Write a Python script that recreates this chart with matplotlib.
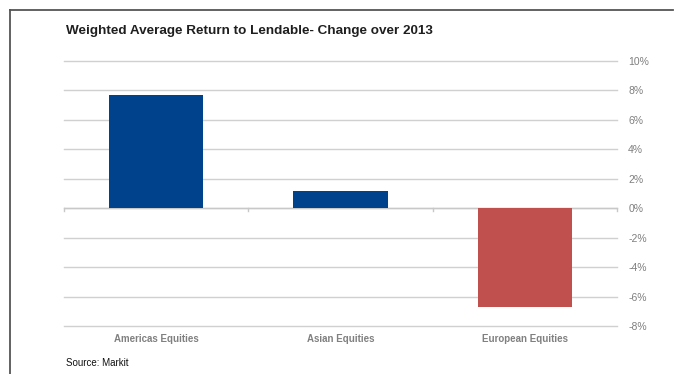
import matplotlib
matplotlib.use("Agg")
import matplotlib.pyplot as plt
from matplotlib.lines import Line2D
from matplotlib.ticker import FuncFormatter

categories = ["Americas Equities", "Asian Equities", "European Equities"]
values = [7.7, 1.2, -6.7]
bar_colors = ["#00438C", "#00438C", "#C0504D"]
y_ticks = [-8, -6, -4, -2, 0, 2, 4, 6, 8, 10]

plt.rcParams["font.family"] = ["Liberation Sans", "DejaVu Sans"]

fig = plt.figure(figsize=(6.75, 3.74), dpi=100)
ax = fig.add_axes([0.0948, 0.1283, 0.8193, 0.7086])

x = list(range(len(categories)))
ax.bar(x, values, width=0.51, color=bar_colors, zorder=3)

ax.set_xlim(-0.5, len(categories) - 0.5)
ax.set_ylim(-8, 10)
ax.set_yticks(y_ticks)
ax.yaxis.set_major_formatter(FuncFormatter(lambda v, _: f"{v:.0f}%"))
ax.yaxis.tick_right()
ax.tick_params(axis="y", length=0, pad=8, labelsize=7.5, labelcolor="#7F7F7F")
ax.grid(axis="y", color="#D0D0D0", linewidth=1.0, zorder=0)
for gl in ax.get_ygridlines():
    gl.set_clip_on(False)

ax.set_xticks(x)
ax.set_xticklabels(categories)
ax.tick_params(axis="x", length=0, pad=6, labelsize=7, labelcolor="#808080")
for lbl in ax.get_xticklabels():
    lbl.set_fontweight("bold")

for s in ax.spines.values():
    s.set_visible(False)

# zero baseline with small category-boundary ticks
ax.axhline(0, color="#C8C8C8", linewidth=1.0, zorder=2)
for b in [-0.5, 0.5, 1.5, 2.5]:
    ax.plot([b, b], [0, -0.2], color="#C8C8C8", linewidth=1.0, zorder=2, clip_on=False)

fig.text(0.098, 0.918, "Weighted Average Return to Lendable- Change over 2013",
         fontsize=9.7, fontweight="bold", color="#1F1F1F",
         va="center", ha="left")
fig.text(0.098, 0.03, "Source: Markit", fontsize=7, color="#111111", va="center", ha="left")

# outer frame (top and left edges)
fig.add_artist(Line2D([0.0148, 0.997], [0.973, 0.973], transform=fig.transFigure,
                      color="#555555", linewidth=1.3))
fig.add_artist(Line2D([0.0148, 0.0148], [0.973, 0.0], transform=fig.transFigure,
                      color="#555555", linewidth=1.3))

fig.savefig("out.png", dpi=100)
